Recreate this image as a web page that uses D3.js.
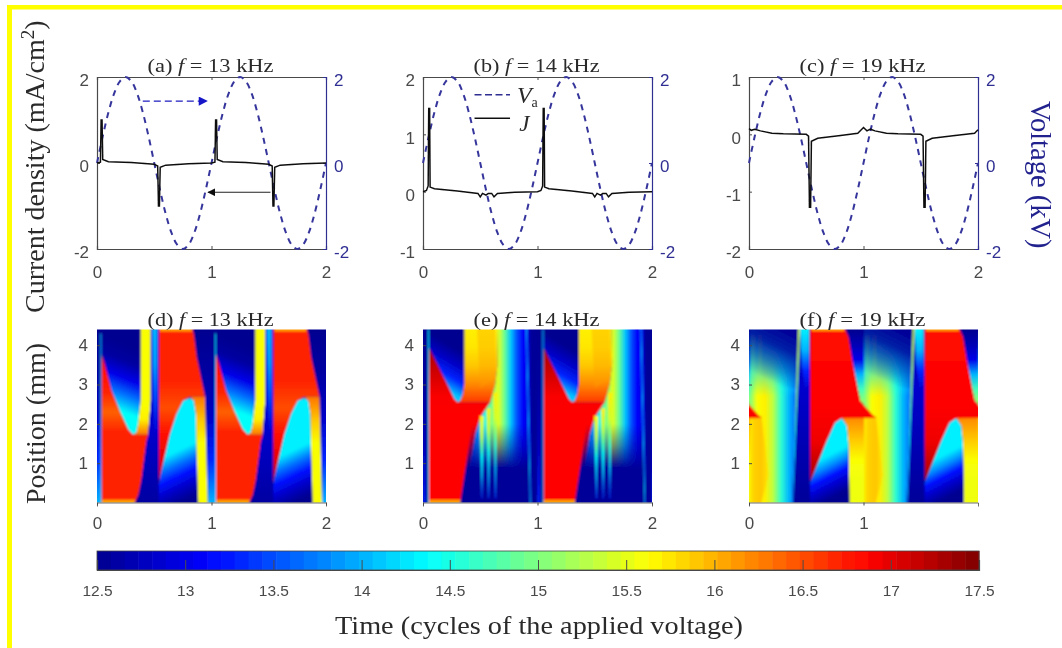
<!DOCTYPE html>
<html>
<head>
<meta charset="utf-8">
<script src="https://d3js.org/d3.v7.min.js"></script>
<style>
  html, body { margin: 0; padding: 0; background: #fff; }
  text { font-family: "Liberation Sans", Arial, sans-serif; }
  .serif { font-family: "Liberation Serif", "Times New Roman", serif; fill: #2a2a2a; }
</style>
</head>
<body>
<svg id="fig" width="1062" height="648"></svg>
<script>
// ---- data ----
const cycleTicks = [0, 1, 2];
const voltTicks = [-2, 0, 2];
const colorTicks = [12.5, 13, 13.5, 14, 14.5, 15, 15.5, 16, 16.5, 17, 17.5];

const voltT = [0, .05, .1, .15, .2, .25, .3, .35, .4, .45, .5, .55, .6, .65, .7, .75, .8, .85, .9, .95,
  1, 1.05, 1.1, 1.15, 1.2, 1.25, 1.3, 1.35, 1.4, 1.45, 1.5, 1.55, 1.6, 1.65, 1.7, 1.75, 1.8, 1.85, 1.9, 1.95, 2];
const voltV = [0, .62, 1.18, 1.62, 1.9, 2, 1.9, 1.62, 1.18, .62, 0, -.62, -1.18, -1.62, -1.9, -2, -1.9, -1.62, -1.18, -.62,
  0, .62, 1.18, 1.62, 1.9, 2, 1.9, 1.62, 1.18, .62, 0, -.62, -1.18, -1.62, -1.9, -2, -1.9, -1.62, -1.18, -.62, 0];

const jA = [[0,0],[.03,.02],[.036,1],[.044,1],[.05,.08],[.1,.03],[.3,.01],[.5,-.03],[.53,-.07],[.537,-1],[.545,-1],[.552,-.1],[.6,-.05],[.8,-.02],[1,0],
  [1.03,.02],[1.036,1],[1.044,1],[1.05,.08],[1.1,.03],[1.3,.01],[1.5,-.03],[1.53,-.07],[1.537,-1],[1.545,-1],[1.552,-.1],[1.6,-.05],[1.8,-.02],[2,0]];
const jB = [[0,0],[.03,.02],[.045,.1],[.05,1.45],[.058,1.45],[.062,.08],[.1,.05],[.3,.01],[.48,-.03],[.5,-.09],[.52,-.03],[.55,-.06],[.57,-.03],[.6,-.03],[.62,-.09],[.65,-.03],[.8,-.01],[1,0],
  [1.03,.02],[1.045,.1],[1.05,1.45],[1.058,1.45],[1.062,.08],[1.1,.05],[1.3,.01],[1.48,-.03],[1.5,-.09],[1.52,-.03],[1.55,-.06],[1.57,-.03],[1.6,-.03],[1.62,-.09],[1.65,-.03],[1.8,-.01],[2,0]];
const jC = [[0,.1],[.02,.07],[.05,.09],[.1,.06],[.2,.02],[.3,.01],[.5,0],[.52,-.03],[.528,-1.27],[.538,-1.27],[.545,-.12],[.6,-.07],[.8,-.02],[.95,.02],[1,.12],[1.03,.06],[1.06,.09],[1.1,.06],[1.2,.02],[1.3,.01],[1.5,0],[1.52,-.03],[1.528,-1.27],[1.538,-1.27],[1.545,-.12],[1.6,-.07],[1.8,-.02],[1.97,.02],[2,.08]];

// density map regions of one voltage cycle: outline in (cycle, mm), colour values along from -> to
const regionsD = [
  { pts: [[.83,4.5],[1.037,4.5],[1.037,-.1],[.966,-.1],[.945,2.7]], from: [0,4.4], to: [0,0], vals: [12.5,12.6,12.8,13.3,14] },
  { pts: [[1.03,4.3],[1.038,4.3],[1.038,-.1],[1.03,-.1]], val: 14.2 },
  { pts: [[.038,4.5],[.382,4.5],[.382,2.6],[.36,2],[.345,1.78],[.315,1.72],[.272,1.86],[.199,2.33],[.126,2.85],[.067,3.53],[.038,3.79]],
    from: [.36,3.9], to: [.15,2.4], vals: [12.5,12.6,13,13.7,14.4] },
  { pts: [[.038,3.79],[.067,3.53],[.126,2.85],[.199,2.33],[.272,1.86],[.315,1.72],[.45,1.72],[.432,1.56],[.39,.62],[.36,.2],[.315,-.1],[.038,-.1]],
    from: [0,3.8], to: [0,1.8], vals: [17,16.8,16.7,16.4,16.7] },
  { pts: [[.04,.07],[.335,.07],[.315,-.1],[.04,-.1]], val: 16.1 },
  { pts: [[.382,4.5],[.47,4.5],[.47,2.6],[.447,1.72],[.315,1.72],[.345,1.78],[.36,2],[.382,2.6]], from: [0,2.5], to: [0,1.72], vals: [15.6,15.7,16.3] },
  { pts: [[.47,4.5],[.54,4.5],[.54,-.1],[.36,-.1],[.39,.62],[.432,1.56],[.447,1.72],[.47,2.6]], from: [0,4.4], to: [0,0], vals: [13,12.95,12.8,12.6] },
  { pts: [[.482,4.5],[.524,4.5],[.524,1.8],[.5,1.8]], from: [0,4.4], to: [0,1.8], vals: [14,13.9,13.5,12.9] },
  { pts: [[.54,4.5],[.826,4.5],[.847,4.26],[.87,3.7],[.943,2.69],[.812,2.69],[.753,2.59],[.695,2.25],[.636,1.72],[.549,.62],[.54,.45]],
    from: [0,4.4], to: [0,.4], vals: [16.7,16.7,16.7,16.5,16.8,17,17.2] },
  { pts: [[.55,4.5],[.82,4.5],[.83,4.35],[.55,4.35]], val: 16.1 },
  { pts: [[.54,-.1],[.54,.45],[.549,.62],[.636,1.72],[.695,2.25],[.753,2.59],[.812,2.65],[.847,2.59],[.864,2.25],[.87,1.31],[.879,-.1]],
    from: [.8,.1], to: [.62,1.2], vals: [12.5,12.8,13.2,13.7,14.3] },
  { pts: [[.812,2.69],[.943,2.69],[.966,-.1],[.885,-.1],[.87,1.31],[.864,2.25],[.847,2.59]], from: [0,2.69], to: [0,1.5], vals: [16.3,15.9,15.6] }
];

const regionsE = [
  { pts: [[1,-.1],[1.022,-.1],[1.022,4.5],[1,4.5]], from: [0,0], to: [0,4.4], vals: [13.3,12.8,12.6,12.5] },
  { pts: [[1.044,-.1],[1.052,-.1],[1.052,4.4],[1.044,4.4]], val: 14.2 },
  { pts: [[.052,4.5],[.361,4.5],[.361,3.02],[.349,2.76],[.326,2.58],[.303,2.55],[.274,2.63],[.224,2.93],[.137,3.44],[.058,3.91],[.052,4.2]],
    from: [.3,3.9], to: [.12,3], vals: [12.5,12.8,13.3,14.1] },
  { pts: [[.058,3.91],[.137,3.44],[.224,2.93],[.274,2.63],[.303,2.55],[.588,2.55],[.5,2.16],[.457,1.74],[.399,.71],[.355,.2],[.32,-.1],[.052,-.1],[.052,3.91]],
    from: [0,3.9], to: [0,2.1], vals: [17.3,17.1,16.9,16.85] },
  { pts: [[.052,.07],[.34,.07],[.32,-.1],[.052,-.1]], val: 16.1 },
  { pts: [[.361,4.5],[.646,4.5],[.652,3.53],[.632,3.02],[.588,2.55],[.303,2.55],[.326,2.58],[.349,2.76],[.361,3.02]],
    from: [0,4.4], to: [0,2.55], vals: [15.7,15.75,15.9,16.2,16.6] },
  { pts: [[.47,4.5],[.63,4.5],[.64,3.2],[.5,2.9]], val: 16.1, alpha: .35 },
  { pts: [[.588,2.55],[.632,3.02],[.652,3.53],[.646,4.5],[.93,4.5],[.95,-.1],[.32,-.1],[.355,.2],[.399,.71],[.457,1.74],[.5,2.16]],
    from: [.44,0], to: [.93,0], vals: [13.7,14,14.5,15,15.5,14.9,14.1,13.5,13.1,12.9] },
  { pts: [[.32,-.1],[.95,-.1],[.93,2],[.43,2]], from: [0,.3], to: [0,2], vals: [12.55,12.55,12.55,12.55], alpha: [1,1,.45,0] },
  { pts: [[.495,2.2],[.53,2.2],[.518,.1],[.511,.1]], from: [0,2.2], to: [0,.1], vals: [15.6,15.3,14.4,14,13.4] },
  { pts: [[.555,2.4],[.59,2.4],[.577,.1],[.57,.1]], from: [0,2.4], to: [0,.1], vals: [15.7,15.3,14.4,14,13.4] },
  { pts: [[.614,2.8],[.65,2.8],[.636,.1],[.629,.1]], from: [0,2.8], to: [0,.1], vals: [15.7,15.4,14.6,14,13.4] },
  { pts: [[.899,4.5],[.907,4.5],[.942,-.1],[.934,-.1]], val: 14 }
];

const regionsF = [
  { pts: [[.825,4.5],[1.005,4.5],[1.005,2.5],[.971,2.59],[.913,3.44],[.869,4.21]], from: [0,4.4], to: [0,2.5], vals: [12.5,12.7,13,14,14.7,15.2] },
  { pts: [[.81,2.16],[1.005,2.16],[1.005,-.1],[.878,-.1],[.869,1.48],[.854,1.95]], from: [0,2.15], to: [0,0], vals: [16.2,15.9,15.6,15.55,15.55] },
  { pts: [[0,4.5],[.431,4.5],[.373,-.1],[0,-.1]], from: [0,0], to: [.42,0], vals: [14.9,15.6,15.7,15.3,14.6,14,13.6] },
  { pts: [[-.02,2.2],[.11,2.2],[.17,.7],[.1,-.1],[-.02,-.1]], from: [-.02,0], to: [.17,0], vals: [15.6,15.85,15.9,15.75] },
  { pts: [[0,2.5],[.02,2.38],[.11,2.15],[0,2.15]], val: 16.6 },
  { pts: [[-.01,4.5],[.425,4.5],[.405,2.6],[-.01,2.6]], from: [0,3.9], to: [0,2.7], vals: [14.2,14.2,14.4], alpha: [.9,.55,0] },
  { pts: [[.018,4.25],[.055,4.25],[.055,3],[.018,3]], from: [0,4.25], to: [0,3], vals: [14.8,15.2], alpha: [.7,0] },
  { pts: [[.08,4.25],[.115,4.25],[.115,3],[.08,3]], from: [0,4.25], to: [0,3], vals: [14.8,15.2], alpha: [.7,0] },
  { pts: [[-.01,4.5],[.44,4.5],[.42,2.9],[-.01,3]], from: [.3,4.4], to: [.1,3.2], vals: [12.55,12.55,12.55,12.55], alpha: [1,.85,.45,0] },
  { pts: [[.373,-.1],[.431,4.5],[.534,4.5],[.534,-.1]], from: [0,4.4], to: [0,0], vals: [12.6,12.85,12.7,12.55] },
  { pts: [[.446,4.5],[.525,4.5],[.525,3],[.49,2.9],[.46,3.5]], from: [0,4.4], to: [0,2.8], vals: [14.3,14,13.3,12.8] },
  { pts: [[.375,-.1],[.431,4.5],[.447,4.5],[.384,-.1]], from: [0,4.4], to: [0,0], vals: [15.4,15,14.2,13.8] },
  { pts: [[.534,4.5],[.825,4.5],[.869,4.21],[.913,3.44],[.971,2.59],[1.102,2.15],[.81,2.14],[.752,2.03],[.679,1.56],[.563,.71],[.534,.54]],
    from: [0,4.4], to: [0,.6], vals: [16.8,16.85,16.85,16.95,17.3] },
  { pts: [[.545,4.5],[.82,4.5],[.835,4.36],[.545,4.36]], val: 16.1 },
  { pts: [[.534,-.1],[.534,.5],[.563,.71],[.679,1.56],[.752,2.03],[.81,2.14],[.854,1.95],[.869,1.48],[.878,-.1]],
    from: [.72,.1], to: [.56,1], vals: [12.5,12.8,13.2,13.8,14.3] }
];

const colorStops = [12.5, 13.125, 14.375, 15.625, 16.875, 17.5];
const colorRange = ["#000090", "#0000ff", "#00ffff", "#ffff00", "#ff0000", "#7f0000"];

// ---- layout ----
const fig = d3.select("#fig");
const W = 229, H = 172;
const colsX = [97, 423, 749];
const rowTop = 77, rowBottom = 329.5;
const navy = "#2f2f93", grey = "#4a4a4a";

const jet = d3.scaleLinear().domain(colorStops).range(colorRange).clamp(true);

// yellow frame
fig.append("rect").attr("x", 7).attr("y", 5).attr("width", 1055).attr("height", 4.5).attr("fill", "#ffff00");
fig.append("rect").attr("x", 7).attr("y", 5).attr("width", 5).attr("height", 643).attr("fill", "#ffff00");

const defs = fig.append("defs");
defs.append("filter").attr("id", "soft").attr("x", "-5%").attr("y", "-5%").attr("width", "110%").attr("height", "110%")
  .append("feGaussianBlur").attr("stdDeviation", .8);
// the whole scan is a bit out of focus
defs.append("filter").attr("id", "scan").attr("filterUnits", "userSpaceOnUse")
  .attr("x", 0).attr("y", 0).attr("width", 1062).attr("height", 648)
  .append("feGaussianBlur").attr("stdDeviation", .4);
const svg = fig.append("g").attr("filter", "url(#scan)");

const tipBlue = defs.append("marker").attr("id", "tipBlue").attr("viewBox", "0 0 10 10").attr("refX", 9).attr("refY", 5)
  .attr("markerWidth", 9).attr("markerHeight", 7).attr("orient", "auto");
tipBlue.append("path").attr("d", "M0,0L10,5L0,10z").attr("fill", "#1414c8");
const tipBlack = defs.append("marker").attr("id", "tipBlack").attr("viewBox", "0 0 10 10").attr("refX", 9).attr("refY", 5)
  .attr("markerWidth", 9).attr("markerHeight", 7).attr("orient", "auto");
tipBlack.append("path").attr("d", "M0,0L10,5L0,10z").attr("fill", "#111");

function styleAxis(g, color) {
  g.selectAll(".domain").attr("stroke", color).attr("stroke-width", 1.2);
  g.selectAll(".tick line").attr("stroke", color);
  g.selectAll(".tick text").attr("fill", color).attr("font-size", 17)
    .attr("font-family", '"Liberation Sans", Arial, sans-serif');
}

function title(g, label, freq, y) {
  const t = g.append("text").attr("class", "serif").attr("x", W / 2 - 1).attr("y", y)
    .attr("text-anchor", "middle").attr("font-size", 19)
    .attr("textLength", 126).attr("lengthAdjust", "spacingAndGlyphs");
  t.append("tspan").text(label + " ");
  t.append("tspan").attr("font-style", "italic").text("f");
  t.append("tspan").text(" = " + freq + " kHz");
}

const lineX = d3.scaleLinear().domain([0, 2]).range([0, W]);

function linePanel(col, label, freq, jDomain, jTicks, jData) {
  const g = svg.append("g").attr("transform", `translate(${colsX[col]},${rowTop})`);
  const y = d3.scaleLinear().domain(jDomain).range([H, 0]);
  const yV = d3.scaleLinear().domain([-2, 2]).range([H, 0]);

  const ax = g.append("g").attr("transform", `translate(0,${H})`)
    .call(d3.axisBottom(lineX).tickValues(cycleTicks).tickFormat(d => String(d)).tickSize(-3).tickPadding(17));
  styleAxis(ax, grey);
  const top = g.append("g").call(d3.axisTop(lineX).tickValues(cycleTicks).tickFormat("").tickSize(-3));
  styleAxis(top, grey);
  const ay = g.append("g").call(d3.axisLeft(y).tickValues(jTicks).tickFormat(d => String(d)).tickSize(-3).tickPadding(8));
  styleAxis(ay, grey);
  ay.selectAll(".tick text").attr("dy", "0.52em");
  const ar = g.append("g").attr("transform", `translate(${W},0)`)
    .call(d3.axisRight(yV).tickValues(voltTicks).tickFormat(d => String(d)).tickSize(-3).tickPadding(8));
  styleAxis(ar, navy);
  ar.selectAll(".tick text").attr("dy", "0.52em");

  g.append("path").datum(d3.zip(voltT, voltV))
    .attr("fill", "none").attr("stroke", "#35359c").attr("stroke-width", 2).attr("stroke-dasharray", "6 5.5")
    .attr("d", d3.line().x(d => lineX(d[0])).y(d => yV(d[1])).curve(d3.curveCatmullRom));

  g.append("path").datum(jData)
    .attr("fill", "none").attr("stroke", "#111").attr("stroke-width", 1.5)
    .attr("d", d3.line().x(d => lineX(d[0])).y(d => y(d[1])));

  title(g, label, freq, -5);
  return { g, y };
}

let gradId = 0;
const posY = d3.scaleLinear().domain([0, 4.4]).range([H + 1, 0]);

function drawRegions(root, regions, x) {
  [2, 1, 0, -1].forEach(k => {
    const cyc = root.append("g").attr("transform", `translate(${x(k) - x(0)},0)`);
    regions.forEach(r => {
      let fill;
      if (r.from) {
        const id = "grad" + (gradId++);
        const gr = defs.append("linearGradient").attr("id", id).attr("gradientUnits", "userSpaceOnUse")
          .attr("x1", x(r.from[0])).attr("y1", posY(r.from[1])).attr("x2", x(r.to[0])).attr("y2", posY(r.to[1]));
        r.vals.forEach((v, i) => {
          const st = gr.append("stop").attr("offset", i / (r.vals.length - 1)).attr("stop-color", jet(v));
          if (Array.isArray(r.alpha)) st.attr("stop-opacity", r.alpha[i]);
        });
        fill = `url(#${id})`;
      } else fill = jet(r.val);
      const p = cyc.append("polygon")
        .attr("points", r.pts.map(q => [x(q[0]), posY(q[1])].join(",")).join(" "))
        .attr("fill", fill);
      if (typeof r.alpha === "number") p.attr("fill-opacity", r.alpha);
    });
  });
}

function mapPanel(col, label, freq, ticks, regions) {
  const g = svg.append("g").attr("transform", `translate(${colsX[col]},${rowBottom})`);
  const clipId = "clip" + col;
  defs.append("clipPath").attr("id", clipId).append("rect").attr("width", W).attr("height", H + 1);
  const holder = g.append("g").attr("clip-path", `url(#${clipId})`);
  const blurred = holder.append("g").attr("filter", "url(#soft)");
  blurred.append("rect").attr("x", -10).attr("y", -10).attr("width", W + 20).attr("height", H + 20).attr("fill", jet(12.55));
  drawRegions(blurred, regions, lineX);

  const ax = g.append("g").attr("transform", `translate(0,${H + 1})`)
    .call(d3.axisBottom(lineX).tickValues(ticks).tickFormat(d => String(d)).tickSize(4).tickPadding(10));
  styleAxis(ax, grey);
  ax.selectAll(".tick line").attr("y2", 3);
  ax.select(".domain").attr("stroke-width", .8);
  const ay = g.append("g").call(d3.axisLeft(posY).tickValues([1, 2, 3, 4]).tickFormat(d => String(d)).tickSize(-3).tickPadding(9));
  styleAxis(ay, grey);
  ay.select(".domain").attr("stroke", "none");
  title(g, label, freq, -4);
}

const panelA = linePanel(0, "(a)", 13, [-2, 2], [-2, 0, 2], jA);
const panelB = linePanel(1, "(b)", 14, [-1, 2], [-1, 0, 1, 2], jB);
linePanel(2, "(c)", 19, [-2, 1], [-2, -1, 0, 1], jC);

// arrows in (a), in the axis units of that panel
panelA.g.append("line").attr("x1", lineX(.4)).attr("x2", lineX(.96)).attr("y1", panelA.y(1.44)).attr("y2", panelA.y(1.44))
  .attr("stroke", "#1e1ec0").attr("stroke-width", 1.3).attr("stroke-dasharray", "7 4").attr("marker-end", "url(#tipBlue)");
panelA.g.append("line").attr("x1", lineX(1.515)).attr("x2", lineX(.97)).attr("y1", panelA.y(-.68)).attr("y2", panelA.y(-.68))
  .attr("stroke", "#222").attr("stroke-width", 1.1).attr("marker-end", "url(#tipBlack)");

// legend in (b)
panelB.g.append("line").attr("x1", lineX(.45)).attr("x2", lineX(.76)).attr("y1", panelB.y(1.69)).attr("y2", panelB.y(1.69))
  .attr("stroke", navy).attr("stroke-width", 1.5).attr("stroke-dasharray", "7 3.5");
panelB.g.append("line").attr("x1", lineX(.45)).attr("x2", lineX(.76)).attr("y1", panelB.y(1.28)).attr("y2", panelB.y(1.28))
  .attr("stroke", "#111").attr("stroke-width", 1.4);
const vaText = panelB.g.append("text").attr("class", "serif").attr("x", lineX(.82)).attr("y", panelB.y(1.55)).attr("font-size", 24);
vaText.append("tspan").attr("font-style", "italic").text("V");
vaText.append("tspan").attr("dy", 4).attr("font-size", 14).text("a");
panelB.g.append("text").attr("class", "serif").attr("x", lineX(.84)).attr("y", panelB.y(1.06)).attr("font-size", 23)
  .attr("font-style", "italic").text("J");

mapPanel(0, "(d)", 13, cycleTicks, regionsD);
mapPanel(1, "(e)", 14, cycleTicks, regionsE);
mapPanel(2, "(f)", 19, [0, 1], regionsF);

// colorbar
const cbX = d3.scaleLinear().domain([12.5, 17.5]).range([97, 979]);
const cbY = 551, cbH = 19;
const cbSteps = d3.range(64);
svg.append("g").selectAll("rect").data(cbSteps).join("rect")
  .attr("x", i => cbX(12.5 + i * 5 / 64))
  .attr("width", i => cbX(12.5 + (i + 1) * 5 / 64) - cbX(12.5 + i * 5 / 64) + .5)
  .attr("y", cbY).attr("height", cbH)
  .attr("fill", i => jet(12.5 + (i + .5) * 5 / 64));
const cbAxis = svg.append("g").attr("transform", `translate(0,${cbY + cbH})`)
  .call(d3.axisBottom(cbX).tickValues(colorTicks).tickFormat(d => d).tickSize(-10).tickPadding(15));
styleAxis(cbAxis, grey);
cbAxis.selectAll(".tick text").attr("font-size", 15.5);
svg.append("rect").attr("x", 97).attr("y", cbY).attr("width", 882).attr("height", cbH)
  .attr("fill", "none").attr("stroke", "#444").attr("stroke-width", .8);

// outer labels
const yl = svg.append("text").attr("class", "serif").attr("transform", "translate(44,313) rotate(-90)").attr("font-size", 28);
yl.append("tspan").text("Current density (mA/cm");
yl.append("tspan").attr("dy", -10).attr("font-size", 19).text("2");
yl.append("tspan").attr("dy", 10).text(")");
svg.append("text").attr("class", "serif").attr("transform", "translate(45,504) rotate(-90)").attr("font-size", 28).text("Position (mm)");
svg.append("text").attr("class", "serif").attr("transform", "translate(1031,101) rotate(90)").attr("font-size", 28.5)
  .style("fill", "#23238f").text("Voltage (kV)");
svg.append("text").attr("class", "serif").attr("x", 539).attr("y", 634).attr("text-anchor", "middle").attr("font-size", 26)
  .attr("textLength", 408).attr("lengthAdjust", "spacingAndGlyphs")
  .text("Time (cycles of the applied voltage)");
</script>
</body>
</html>
